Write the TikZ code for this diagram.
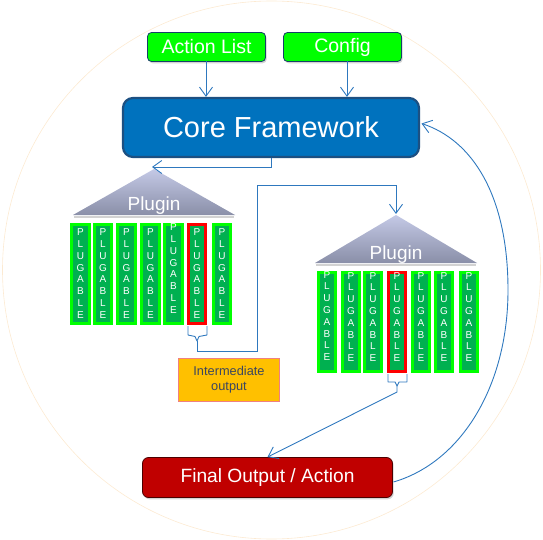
\documentclass[tikz,border=0pt]{standalone}
\usepackage{fontspec}
\setmainfont{Liberation Sans}
\usetikzlibrary{arrows.meta,shadows,calc}
\definecolor{cfblue}{RGB}{0,114,190}
\definecolor{cfborder}{RGB}{28,80,130}
\definecolor{brightgreen}{RGB}{0,255,0}
\definecolor{plugfill}{RGB}{0,176,80}
\definecolor{connblue}{RGB}{46,120,190}
\definecolor{trihigh}{RGB}{196,201,230}
\definecolor{trilow}{RGB}{138,143,168}
\definecolor{finalred}{RGB}{192,0,0}
\definecolor{interfill}{RGB}{255,192,0}
\definecolor{interborder}{RGB}{240,128,128}
\definecolor{intertext}{RGB}{60,70,95}
\definecolor{ringcol}{RGB}{252,234,210}
\begin{document}
\begin{tikzpicture}[x=1pt,y=-1pt,
  gbox/.style={draw=cfborder!80!black, line width=0.8pt, fill=brightgreen, rounded corners=4pt,
    minimum width=118pt, minimum height=29pt, text=white, font=\fontsize{19.5}{22}\selectfont,
    drop shadow={shadow xshift=1.2pt, shadow yshift=-1.8pt, opacity=0.35}},
  corebox/.style={draw=cfborder, line width=2.2pt, fill=cfblue, rounded corners=10pt,
    minimum width=296pt, minimum height=59pt, text=white, font=\fontsize{29}{33}\selectfont},
  finalbox/.style={draw=black!70!red, line width=0.8pt, fill=finalred, rounded corners=6pt,
    minimum width=250pt, minimum height=40pt, text=white, font=\fontsize{19.2}{22}\selectfont,
    drop shadow={shadow xshift=1.2pt, shadow yshift=-1.8pt, opacity=0.35}},
  interbox/.style={draw=interborder, line width=1pt, fill=interfill, minimum width=101pt,
    minimum height=43pt, text=intertext, align=center, font=\fontsize{12.8}{15}\selectfont},
  plugcol/.style={draw=brightgreen, line width=3pt, fill=plugfill, minimum width=17.5pt,
    minimum height=99pt, inner sep=0pt},
  redcol/.style={plugcol, draw=red},
  plugtxt/.style={text=white, align=center, inner sep=0pt, font=\fontsize{10}{11.8}\selectfont},
  plugintxt/.style={text=white, anchor=base, inner sep=0pt, font=\fontsize{19}{22}\selectfont},
  conn/.style={draw=connblue, line width=0.9pt},
  arr/.style={conn, -{Straight Barb[length=9pt,width=13pt,line width=0.9pt]}},
  brace/.style={draw=connblue, line width=0.9pt, line join=round},
  tri/.style={top color=trihigh, bottom color=trilow}
]
\useasboundingbox (0,0) rectangle (543,540);
\draw[ringcol, line width=0.6pt] (271.5,270) circle (269pt);

% top boxes
\node[gbox] (al) at (206.5,47) {Action List};
\node[gbox] (cfg) at (342.5,47) {Config};
\node[corebox] (core) at (271,127.5) {Core Framework};
\coordinate (alout) at (206,61.5);
\coordinate (cfgout) at (347,61.5);
\draw[arr] (alout) -- (alout |- core.north);
\draw[arr] (cfgout) -- (cfgout |- core.north);

% plugin 1
\coordinate (t1) at (154,169);
\shade[tri] (73,215) -- (t1) -- (235,215) -- cycle;
\draw[gray!35, line width=1.5pt] (74,217) -- (234,217);
\node[plugintxt] (pl1) at (154,210.5) {Plugin};
\foreach \x/\ty [count=\i] in {80.5/273.5, 103/273.5, 126.5/273.5, 150.5/273.5, 173.5/268.5, 197/273.5, 222/273.5} {
  \ifnum\i=6
    \node[redcol] (a\i) at (\x,274) {};
  \else
    \node[plugcol] (a\i) at (\x,274) {};
  \fi
  \node[plugtxt] (at\i) at (\x,\ty) {P\\L\\U\\G\\A\\B\\L\\E};
}
% plugin 2
\coordinate (t2) at (396,215);
\shade[tri] (315,263) -- (t2) -- (477,263) -- cycle;
\draw[gray!35, line width=1.5pt] (316,265) -- (476,265);
\node[plugintxt] (pl2) at (396,259.5) {Plugin};
\foreach \x/\ty [count=\i] in {327/316, 351/317, 373/317, 397/317, 421/317, 444/317, 469/317} {
  \ifnum\i=4
    \node[redcol] (b\i) at (\x,322) {};
  \else
    \node[plugcol] (b\i) at (\x,322) {};
  \fi
  \node[plugtxt] (bt\i) at (\x,\ty) {P\\L\\U\\G\\A\\B\\L\\E};
}

% core -> plugin 1
\coordinate (t1in) at (152,167);
\draw[arr] (core.south) |- (t1in);

% brace under red column of plugin 1
\draw[brace] (188,326) -- (188,335) -- (195,336.5) -- (197,341) -- (199,336.5) -- (207,335) -- (207,326);
\coordinate (br1) at (197,341);
\coordinate (t2in) at (396,214);
\draw[arr] (br1) -- (197,351) -- (257.5,351) -- (257.5,185) -| (t2in);

% intermediate output
\node[interbox] (inter) at (229,380) {Intermediate\\output};

% brace under red column of plugin 2
\draw[brace] (388,374) -- (388,382) -- (395,382) -- (397,386) -- (399,382) -- (407,382) -- (407,374);
\coordinate (br2) at (397,386);

% final
\node[finalbox] (final) at (267.5,477.5) {Final Output / Action};
\draw[arr] (br2) -- (397,392) -- (final.north);

% loop back
\coordinate (fout) at (393.5,482);
\coordinate (cin) at (421.5,123.5);
\draw[arr] (fout) .. controls (462,462) and (508,385) .. (508,290)
  .. controls (508,195) and (472,140) .. (cin);
\end{tikzpicture}
\end{document}
